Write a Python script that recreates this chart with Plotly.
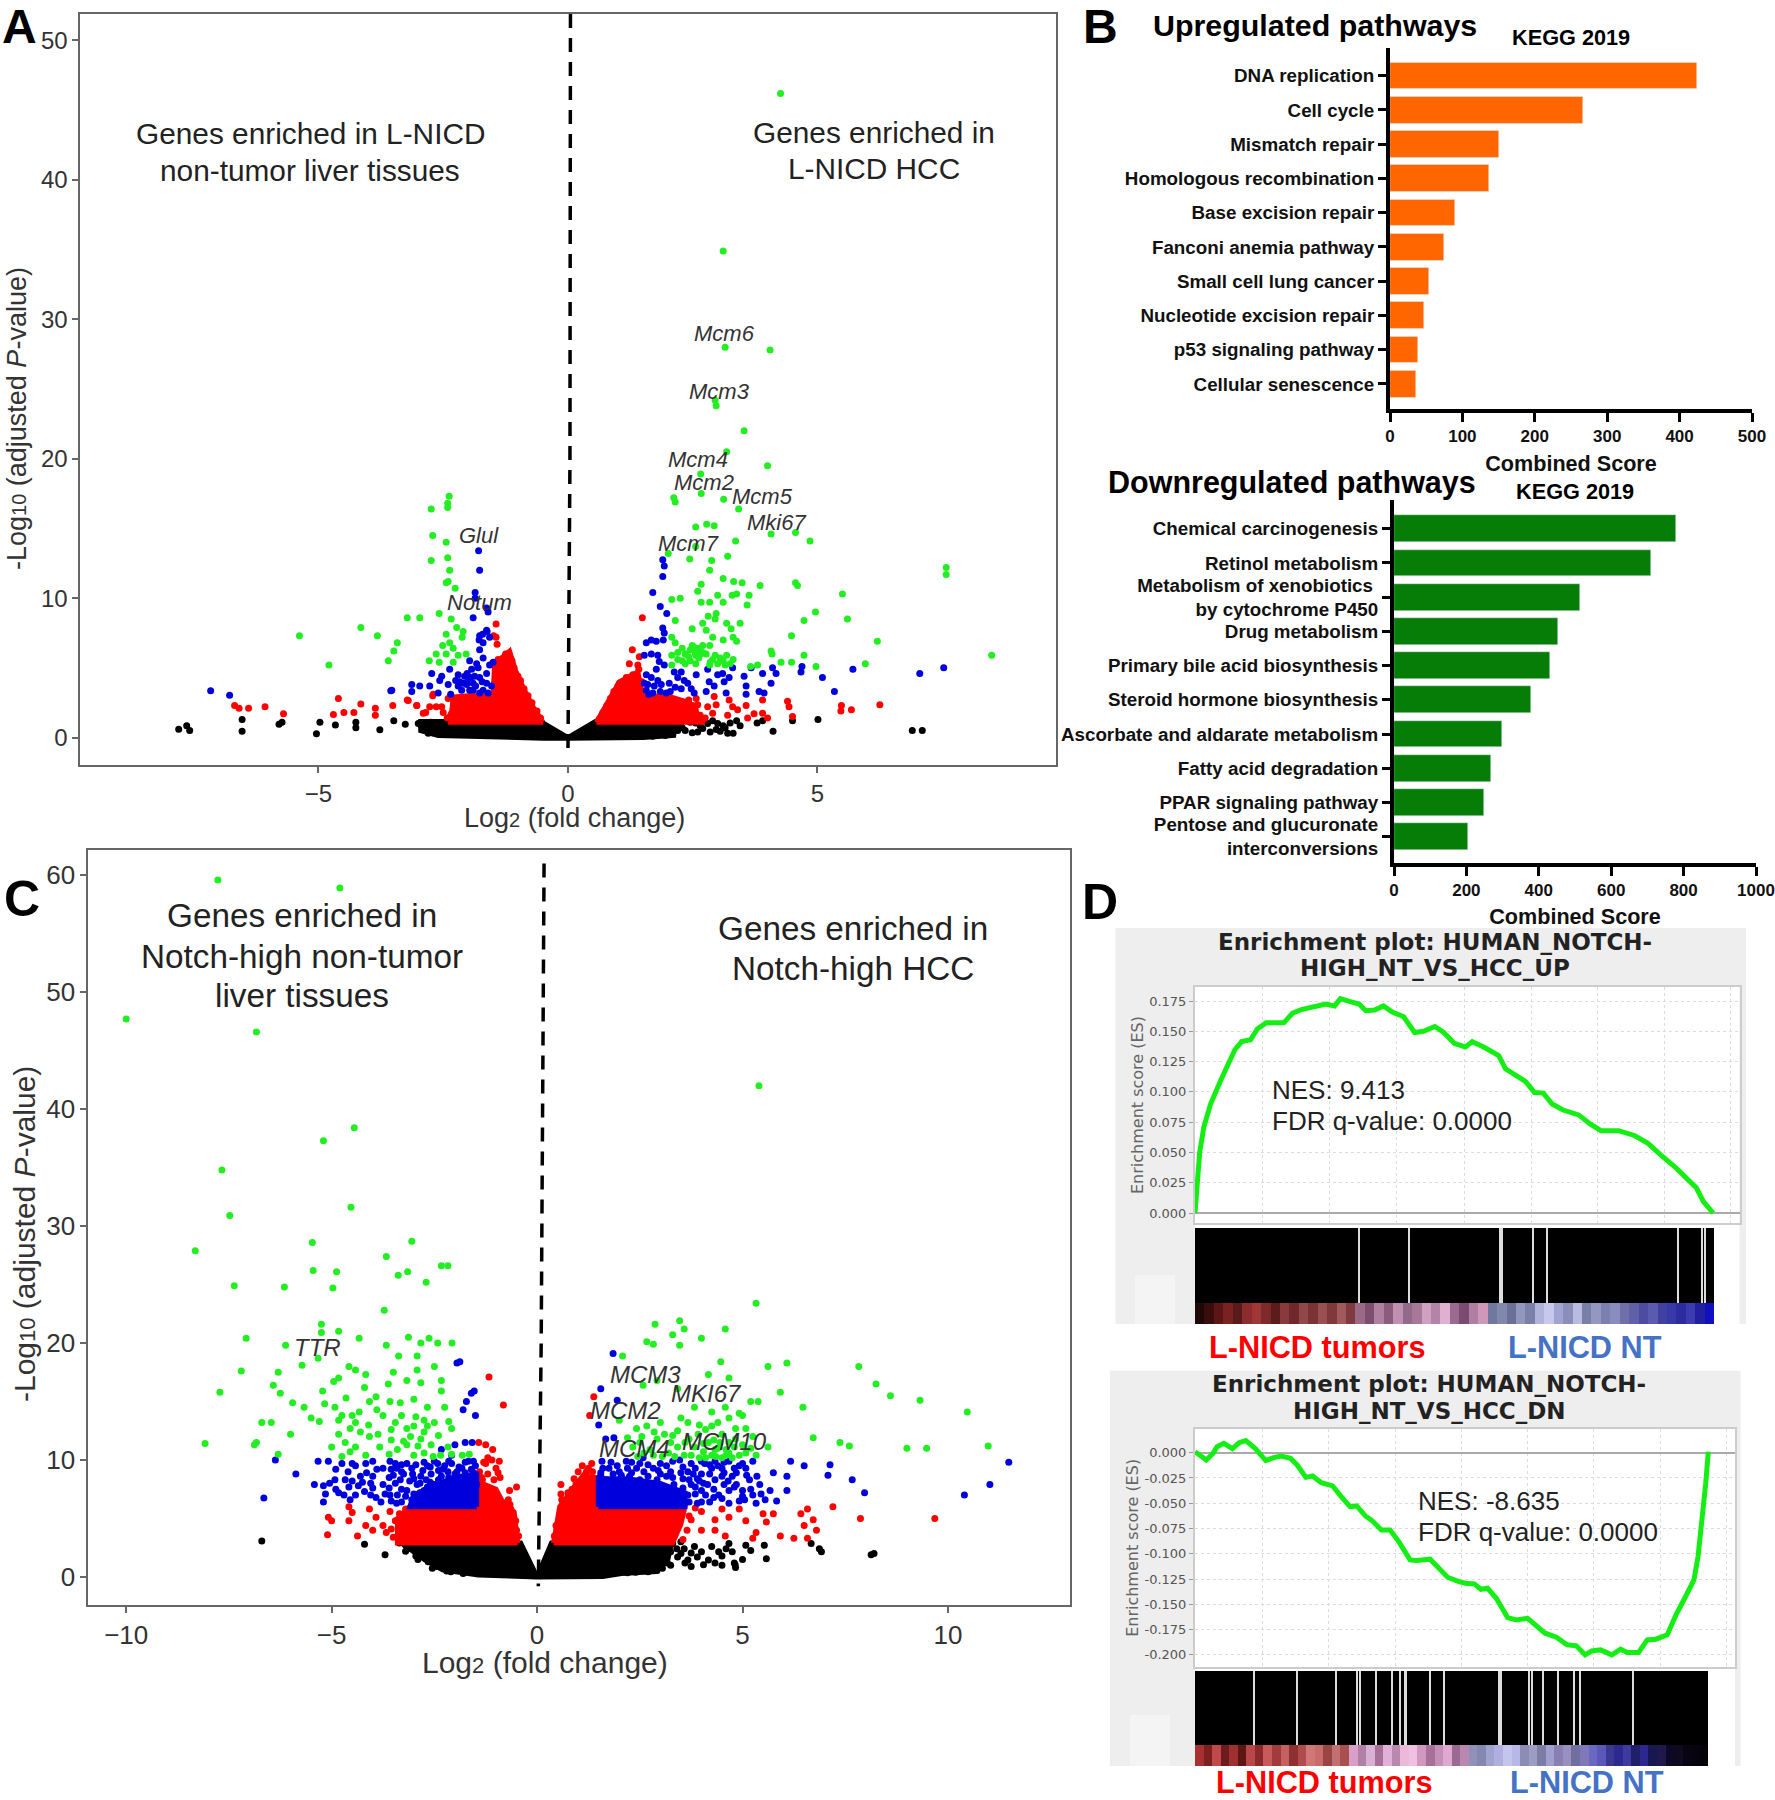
#!/usr/bin/env python3
"""Four panel figure: two volcano plots, KEGG bar charts, GSEA enrichment plots."""
import plotly.graph_objects as go

W, H = 1775, 1800
FONT = "Liberation Sans"
DIALOG = "DejaVu Sans"

GREEN, BLUE, RED, BLACK = "#22ee22", "#0000dd", "#ff0000", "#000000"

# ----------------------------------------------------------------------------
# Panel A, values as (log2 fold change, -log10 p)
# ----------------------------------------------------------------------------
a_green = [
    (4.26, 46.2), (3.11, 34.9), (3.15, 28), (4.05, 27.8), (2.97, 23.8), (2.95, 24.2), (3.53, 22), (3.18, 20.5),
    (4.0, 19.5), (2.66, 18.9), (2.67, 17.5), (3.12, 17.1), (2.12, 17.2), (2.15, 16.9), (3.42, 16.4), (2.78, 15.3),
    (2.93, 15.2), (2.56, 15.1), (4.07, 14.6), (4.56, 14.7), (4.85, 14.1), (3.36, 14.1), (2.56, 13.7), (2.01, 13.2),
    (3.2, 13), (2.44, 12.8), (2.88, 12.7), (7.58, 12.2), (7.58, 11.7), (2.84, 12), (2.67, 11), (3.11, 11.4),
    (3.32, 11.2), (3.49, 11.1), (4.56, 11.1), (4.6, 10.9), (3.85, 10.9), (2.6, 10.5), (5.5, 10.3), (3.38, 10.3),
    (3, 10.2), (3.29, 10.2), (3.63, 10.2), (2.08, 9.9), (2.25, 10), (2.67, 9.7), (2.84, 9.7), (3.11, 9.7),
    (3.59, 9.5), (4.96, 9), (2.97, 8.9), (4.73, 8.4), (5.6, 8.5), (2.81, 8.7), (2.95, 8.5), (2.15, 8.4),
    (2.7, 8.2), (3.18, 8.2), (3.45, 8.2), (2.49, 7.8), (2.77, 7.7), (3.27, 7.8), (4.48, 7.3), (6.2, 6.9),
    (8.49, 5.9), (2.08, 7.2), (2.9, 7.2), (3.31, 7.2), (3.11, 7), (2.15, 6.8), (3.38, 6.9), (2.84, 6.6),
    (2.29, 6.4), (2.49, 6.6), (2.7, 6.6), (2.63, 6.2), (4.07, 6.2), (4.09, 6.0), (2.08, 5.9), (2.36, 6),
    (2.56, 5.9), (2.77, 6), (4.73, 5.9), (3.18, 5.9), (2.29, 5.5), (2.9, 5.6), (3.11, 5.5), (3.31, 5.6),
    (2.08, 5.2), (2.56, 5.3), (2.84, 5.2), (4.27, 5.4), (4.48, 5.4), (3.8, 5.2), (3.66, 5.1), (4.97, 5.1),
    (5.96, 5.3), (2.45, 6.3), (2.6, 6.4), (2.66, 6.0), (2.55, 6.1), (2.42, 5.8), (2.95, 5.9), (3.05, 5.7),
    (2.2, 6.1), (2.35, 5.3), (2.35, 6.0), (2.52, 6.5), (2.7, 6.1), (2.62, 5.7), (2.45, 5.5), (2.85, 5.4),
    (2.2, 5.6), (3.25, 5.3), (3.15, 5.2), (3.0, 5.3),
    (-2.38, 17.3), (-2.41, 16.8), (-2.74, 16.4), (-2.41, 16.5), (-2.71, 14.5), (-2.44, 14), (-2.74, 12.7),
    (-2.41, 12.9), (-2.37, 12), (-2.4, 11.2), (-2.44, 11.1), (-2.26, 10.7), (-4.15, 7.9), (-5.38, 7.3),
    (-3.82, 7.3), (-4.79, 5.2), (-3.22, 8.6), (-2.97, 8.6), (-3.42, 6.8), (-3.49, 6.2), (-3.6, 5.5),
    (-2.58, 8.9), (-2.34, 8.5), (-2.23, 7.9), (-2.1, 7.6), (-2.12, 7.2), (-2.44, 7.4), (-2.37, 6.8),
    (-2.51, 6.6), (-2.3, 6.4), (-2.64, 6), (-2.44, 6), (-2.2, 5.9), (-2.78, 5.5), (-2.58, 5.4), (-2.3, 5.4),
    (-2.04, 6),
]
a_blue = [
    (-1.79, 13.4), (-1.77, 12), (-1.86, 10.4), (-1.86, 10), (-1.63, 9.3), (-1.6, 9), (-1.9, 8.6), (-1.71, 7.4),
    (-1.62, 7.6), (-1.78, 7), (-7.16, 3.35), (-6.78, 3.04), (-3.55, 3.35), (-3.53, 3.4), (-3.13, 3.8), (-3.13, 3.3),
    (-2.97, 3.7), (-2.77, 3.7), (-2.73, 4.6), (-2.57, 4.1), (-2.53, 4.4), (-2.6, 3.2), (-2.37, 4.9), (-2.4, 3.8),
    (-2.35, 3.1), (-2.2, 4.5), (-2.17, 4), (-2.2, 3.7), (-2.13, 3.4), (-2.02, 4.6), (-2, 4.1), (-1.97, 5.5),
    (-2.03, 3.8), (-1.87, 4.4), (-1.83, 5.3), (-1.8, 5), (-1.77, 6.3), (-1.77, 7.3), (-1.7, 5.7), (-1.77, 4.3),
    (-1.9, 3.4), (-1.77, 3.2), (-1.63, 4.6), (-1.63, 7.7), (-1.57, 7.2), (-1.57, 5.2), (-1.63, 3.9), (-1.6, 3.2),
    (-1.53, 3.7), (-1.5, 5.4), (-1.93, 4.9), (-1.7, 6.8), (-2.07, 4.4), (-1.97, 3.4), (-1.7, 3.4), (-2.1, 3.9),
    (-1.9, 3.9), (-1.85, 3.7), (-2.25, 4.1), (-1.95, 4.3), (-1.72, 4.0),
    (1.9, 12.75), (1.93, 12.3), (1.9, 11.55), (1.7, 10.4), (1.85, 9.4), (1.98, 8.9), (1.9, 7.85), (1.93, 7.5),
    (1.91, 7), (1.67, 7), (1.57, 6.8), (1.77, 6.9), (1.53, 5.9), (1.67, 6), (1.8, 5.9), (1.83, 5.45), (1.93, 5.2),
    (1.77, 4.9), (1.57, 4.5), (1.67, 4.3), (1.8, 4.1), (1.53, 3.9), (1.57, 3.4), (1.73, 3.7), (1.87, 3.8),
    (1.97, 3.2), (1.7, 3.2), (2.03, 3.9), (2.13, 4.7), (2.2, 4.3), (2.27, 4.7), (2.33, 4.1), (2.27, 3.5),
    (2.47, 3.5), (2.53, 3.2), (2.57, 4.5), (2.8, 4.9), (2.83, 4), (2.77, 3.3), (3, 4.5), (3.1, 4.6), (2.93, 3.7),
    (3.13, 4), (3.23, 4.3), (3.3, 5), (3.17, 3.2), (3.53, 4.4), (3.57, 3.7), (3.57, 3.1), (3.67, 5), (3.9, 4.6),
    (3.83, 3.3), (4.07, 3.9), (3.93, 3.2), (4.1, 5), (4.17, 4.6), (4.67, 4.7), (4.69, 5.1), (5.1, 4.3), (5.71, 4.9),
    (5.34, 3.3), (7.05, 4.6), (7.53, 5), (1.62, 3.1), (1.85, 3.3), (2.05, 3.3), (2.15, 3.6), (2.4, 3.9), (1.6, 3.8),
]
a_red = [
    (-6.68, 2.3), (-6.59, 2.1), (-6.4, 2.1), (-6.07, 2.2), (-5.7, 1.7), (-4.6, 2.8), (-4.7, 1.65), (-4.49, 1.8),
    (-4.29, 1.8), (-4.15, 2.4), (-3.86, 2.1), (-3.86, 1.6), (-3.22, 2.7), (-3.03, 2.3), (-2.85, 1.8), (-2.71, 3),
    (-2.64, 2.2), (-2.5, 1.8), (-2.3, 2.8), (-2.1, 1.8), (-1.44, 8.15), (-1.44, 7.2), (-1.49, 7.3), (-1.42, 6.7),
    (-3.2, 2.65), (-3.51, 2.3), (-3.03, 2.3), (-2.7, 3.1), (-2.77, 2.2), (-2.9, 1.75), (-2.53, 2.2), (-2.4, 2.8),
    (-2.33, 1.75), (-2.17, 2.45), (-2.27, 2.8),
    (1.49, 8.6), (1.29, 6.3), (1.43, 5.8), (1.23, 5.3), (1.4, 5.2), (1.17, 4.3), (1.03, 3.9), (2.57, 2.8),
    (2.23, 2.6), (2.37, 2), (2.6, 2.35), (2.8, 2.2), (2.93, 2.95), (2.9, 1.75), (3.23, 2.7), (3.3, 2.2), (3.2, 1.6),
    (3.4, 2), (3.57, 2.3), (3.6, 1.4), (3.73, 1.7), (3.9, 1.75), (4, 1.4), (3.9, 2.7), (4.4, 2.6), (4.43, 2.2),
    (4.5, 1.5), (2.97, 2.35), (5.48, 2.3), (5.47, 1.9), (5.68, 2), (6.25, 2.35),
    # ragged edge of the solid part
    (-0.55, 1.4), (-0.62, 1.9), (-0.72, 2.5), (-0.8, 3), (-0.88, 3.5), (-0.95, 4.1), (-1, 4.4), (-1.08, 5),
    (-1.12, 5.5), (-1.2, 6), (-1.25, 6), (-1.3, 5.5), (-1.38, 5), (-1.4, 5.6), (-1.45, 4.6), (-1.47, 3.9),
    (-1.55, 3), (-1.75, 2.9), (-1.95, 2.9), (-2.2, 2.6), (-2.28, 2.2), (-2.35, 1.6), (-2.42, 1.4),
    (0.62, 1.3), (0.7, 1.8), (0.78, 2.3), (0.85, 2.8), (0.92, 3.3), (1, 3.7), (1.1, 4), (1.2, 4.2), (1.3, 4.5),
    (1.42, 4.9), (1.48, 4), (2.15, 2.7), (2.3, 2.4), (2.42, 2.7), (2.55, 2), (2.65, 1.6), (2.75, 1.4), (2.5, 2.3),
]
a_black = [
    (-7.8, 0.6), (-7.64, 0.85), (-7.58, 0.5), (-6.53, 1.3), (-6.53, 0.45), (-5.79, 0.95), (-5.73, 1.1), (-4.97, 1.1),
    (-5.04, 0.27), (-4.66, 0.9), (-4.25, 1.1), (-4.25, 0.7), (-3.77, 0.55), (-3.49, 1.2), (-3.26, 0.95), (5.01, 1.3),
    (6.9, 0.5), (7.1, 0.5), (4.11, 0.45), (4.5, 1.2), (3.79, 1.05), (3.9, 1.2), (3.31, 0.3), (3.25, 1.05),
    (3.11, 0.85), (2.9, 1.2), (2.7, 0.65), (2.56, 1.05), (2.29, 0.7), (2.15, 1.1), (2.49, 0.35), (2.97, 0.58),
    (3.38, 1.2), (3.45, 0.85), (-2.92, 0.58), (-2.71, 0.35), (-2.37, 0.35), (-2.92, 1.05), (-2.5, 0.7),
    (-2.95, 0.9), (-2.85, 0.6), (-2.8, 0.3), (-2.6, 0.25), (-2.65, 0.8), (-3.0, 1.0), (-2.75, 1.1), (2.2, 0.5),
    (2.25, 0.9), (2.35, 0.5), (2.45, 1.1), (2.6, 0.4), (2.65, 0.85), (2.8, 1), (2.85, 0.4), (3, 1), (3.05, 0.45),
    (3.15, 0.7), (3.2, 0.3), (1.95, 0.15), (1.7, 0.1),
]
# outlines of the regions where the dots merge into solid colour
a_black_mass = [
    (0, 0), (-0.55, 1.15), (-2.95, 1.15), (-2.95, 0.5), (-2.6, 0.15), (-1.5, 0.0), (-0.5, -0.05), (0, -0.05),
    (0.5, -0.05), (1.5, 0.0), (2.12, 0.15), (2.15, 1.15), (0.55, 1.15), (0, 0),
]
a_red_left = [
    (-0.5, 1.1), (-0.7, 2.2), (-0.9, 3.6), (-1.05, 4.8), (-1.17, 6.2), (-1.3, 5.8), (-1.47, 5.3), (-1.5, 3),
    (-2.0, 3), (-2.3, 2.9), (-2.35, 1.1), (-0.5, 1.1),
]
a_red_right = [
    (0.57, 1.1), (0.9, 3.2), (1.03, 4), (1.4, 4.7), (1.5, 3), (2.03, 2.95), (2.43, 2.5), (2.73, 1.1), (0.57, 1.1),
]
a_divider_x = [0.05, 0.04, 0.0]
a_divider_y = [51.9, 20, -1.2]

# ----------------------------------------------------------------------------
# Panel C
# ----------------------------------------------------------------------------
c_green = [
    (-7.77, 59.6), (-4.8, 58.9), (-10, 47.7), (-6.83, 46.6), (-4.45, 38.4), (-5.2, 37.3), (-7.67, 34.8), (-7.48, 30.9),
    (-4.53, 31.6), (-8.32, 27.9), (-5.47, 28.6), (-3.05, 28.7), (-3.67, 27.4), (-7.37, 24.9), (-6.15, 24.8),
    (-5.45, 26.2), (-4.88, 26.1), (-4.97, 24.7), (-3.15, 26.1), (-3.38, 25.8), (-2.7, 25.2), (-2.33, 26.6),
    (-2.17, 26.6), (-3.72, 22.8), (-7.08, 20.4), (-6.12, 19.8), (-5.25, 21.6), (-5.25, 20.9), (-4.83, 21),
    (-4.33, 20.4), (-7.2, 17.6), (-7.72, 15.8), (-8.08, 11.4), (-6.3, 17.5), (-6.42, 16.4), (-6.25, 15.7),
    (-5.72, 18.1), (-5.33, 18.7), (-4.58, 18), (-4.42, 17.7), (-4.17, 17.3), (-4.83, 17), (-4.95, 16.7),
    (-5.95, 14.9), (-5.22, 15.9), (-5.67, 14.5), (-5.17, 14.8), (-5.5, 13.6), (-4.92, 14.5), (-4.75, 13.8),
    (-4.5, 13.8), (-4.33, 14.1), (-4.08, 15), (-3.92, 15.4), (-3.67, 19.8), (-3.13, 20.5), (-2.63, 20.4),
    (-2.83, 20), (-2.42, 20), (-2.07, 20), (-3.37, 18.9), (-2.92, 18.9), (-3.5, 17.5), (-2.92, 17.7), (-2.5, 18),
    (-3.17, 16.8), (-2.83, 16.6), (-2.33, 16.8), (-2.33, 15.9), (-3.58, 15), (-3.33, 14.9), (-3, 15.2),
    (-2.67, 14.5), (-2.25, 14.5), (-3.75, 13.8), (-4.83, 13.4), (-4.42, 13.2), (-3.87, 12.2), (-3.17, 12.7),
    (-3, 12.9), (-2.67, 12.9), (-2.5, 13.2), (-2.08, 12.7), (-4.83, 12.2), (-4.67, 11.5), (-4.08, 12), (-3.08, 12),
    (-2.83, 11.8), (-5, 11.1), (-4.42, 11.1), (-3.83, 11.1), (-3.17, 11.3), (-2.58, 11.3), (-2.17, 11.1),
    (-4.17, 10.4), (-3, 10.4), (-2.08, 10.5), (-2.53, 10.3), (-6.83, 11.5), (-6.7, 13.2), (-6.47, 13.2), (-6, 12.2),
    (-6.3, 10.5), (-6.88, 11.3), (-3.45, 13.2), (-3.62, 16.5), (-4.2, 16.2), (-4.65, 15.3), (-3.25, 11.6),
    (-1.82, 10.4), (-1.65, 10.5), (-3.9, 14.3), (-2.95, 13.7), (-2.4, 12.1), (-5.3, 13.3), (-4.55, 12.7),
    (-4.75, 10.3), (-4.55, 10.7), (-3.6, 10.5), (-3.4, 10.9), (-2.75, 10.6), (-2.35, 10.4), (-3.55, 11.7),
    (-2.75, 12.4), (-3.3, 13.8), (-2.75, 13.4), (-2.15, 13.3), (-4.3, 12.4), (-4.1, 13), (-3.55, 12.6), (-2.9, 11.2),
    (5.4, 42), (5.33, 23.4), (2.87, 21.6), (3.47, 21.9), (3.58, 21.2), (4.58, 21.2), (3.3, 20.7), (2.67, 20.1),
    (2.83, 19.9), (3.47, 19.8), (4, 20.4), (2.08, 18.9), (4.47, 18.4), (6.08, 18.3), (5.62, 18), (7.83, 18),
    (8.25, 16.5), (4.17, 17.3), (4.67, 17), (5.92, 15.8), (8.6, 15.5), (9.32, 15.1), (5.2, 15), (5.38, 15),
    (6.47, 14.5), (10.47, 14.1), (2.58, 16.4), (2.92, 16.8), (3.42, 16.1), (3.83, 14.5), (4.25, 14.1), (4.58, 14.5),
    (4.92, 14), (4.67, 13.6), (5, 13.8), (3, 13.2), (3.5, 13.6), (3.67, 13.2), (4.25, 12.9), (4.83, 12.7),
    (5.08, 12.7), (2.42, 12.7), (2, 13.4), (2.67, 12.9), (3.42, 12.5), (3.92, 12.2), (4.5, 12.2), (5.25, 12),
    (2.92, 11.8), (3.25, 11.5), (4.17, 11.5), (4.67, 11.5), (4.83, 11.8), (6.72, 11.9), (7.37, 11.5), (7.6, 11.2),
    (9, 11), (9.48, 11), (10.98, 11.2), (5.62, 11.1), (2.33, 11.1), (2.75, 10.9), (3.42, 11.1), (3.83, 11.1),
    (4.33, 10.9), (4.67, 10.6), (5.08, 10.6), (4.25, 10.4), (4.5, 10.2), (4.92, 10.4), (2.83, 10.4), (3.58, 10.4),
    (5.33, 10.4), (2.2, 11.9), (2.55, 12.0), (3.1, 12.2), (4.05, 10.7), (4.4, 11.0), (3.7, 11.8),
    (2.45, 10.3), (2.6, 10.6), (3.05, 10.3), (3.2, 10.6), (3.35, 10.3), (3.75, 10.4), (3.95, 10.2), (4.1, 10.2),
    (4.35, 10.3), (4.6, 10.4), (4.75, 10.2), (4.05, 11.4), (4.3, 11.7), (4.45, 11.5), (4.6, 10.9), (4.8, 11.1),
    (5.0, 11.3), (3.6, 11.5), (3.3, 12.1), (2.85, 12.4), (2.5, 11.5), (3.95, 13), (4.4, 13.2), (4.1, 12.6), (5.2, 11),
]
c_blue = [
    (-6.37, 10), (-5.87, 8.8), (-6.65, 6.75), (-5.42, 7.9), (-5.33, 9.9), (-5.08, 9.9), (-5.2, 6.4), (-4.92, 8.3),
    (-4.83, 7.2), (-4.58, 7.7), (-4.42, 9.5), (-4.17, 9.7), (-4.25, 8.1), (-4, 8.6), (-3.75, 7.9), (-3.92, 6.8),
    (-3.58, 9.9), (-3.42, 9.3), (-3.33, 8.3), (-3.58, 7), (-3.17, 9.7), (-3.03, 8.8), (-2.92, 7.9), (-3.17, 7.4),
    (-2.67, 9.5), (-2.58, 8.8), (-2.42, 9.7), (-2.33, 8.6), (-2.08, 9.7), (-2, 8.8), (-1.83, 9.3), (-1.92, 7.9),
    (-1.67, 8.6), (-1.5, 9.5), (-1.47, 7.9), (-2.33, 7.4), (-2.5, 7), (-2.83, 6.5), (-3.42, 6.3), (-1.95, 18.3),
    (-1.88, 18.4), (-1.53, 15.9), (-1.6, 15.7), (-1.72, 15), (-1.8, 14.3), (-1.5, 13.8), (-1.58, 11.5), (-1.75, 11.5),
    (-2, 11.3), (-2.33, 10.9), (-2.08, 10.4), (-2.5, 9.9), (-2.83, 8.6), (-2.17, 9), (-1.67, 9.9), (-1.75, 7.2),
    (-2.08, 7), (-2.5, 7.9), (-2.67, 7.7), (-3.25, 8.8), (-3.75, 9.3), (-4.5, 9.7), (-4.75, 9.7), (-4.67, 8.3),
    (-4.42, 7), (-4, 7.6), (-3.05, 9.3), (-2.78, 9.1), (-2.2, 8.1), (-1.6, 7.6), (-3.5, 8.7), (-3.1, 8.2),
    (-2.3, 9.2), (-1.9, 8.5), (-1.55, 8.9), (-2.7, 8.3),
    (-1.55, 9.9), (-1.6, 9.2), (-1.75, 9.8), (-1.9, 9.4), (-2.15, 9.9), (-2.25, 9.5), (-2.4, 9.1), (-2.6, 9.4),
    (-2.75, 9.8), (-2.95, 9.6), (-3.3, 9.6), (-3.45, 9.7), (-3.55, 9.2), (-3.3, 9), (-3.0, 8.4), (-2.85, 8.0),
    (-2.6, 8.1), (-2.4, 8.3), (-2.15, 8.5), (-1.95, 9.0), (-1.75, 8.9), (-1.6, 8.3), (-1.5, 8.5), (-3.6, 8.5),
    (-3.45, 8.0), (-3.6, 7.6), (-3.3, 7.5), (-3.4, 7.0), (-3.2, 6.9), (-3.0, 7.1), (-3.05, 6.6), (-3.3, 6.4),
    (-3.55, 6.5), (-3.8, 6.4), (-4.05, 7.0), (-4.2, 7.3), (-4.35, 7.8), (-4.5, 8.2), (-4.05, 8.0), (-4.15, 8.9),
    (-3.9, 9.2), (-4.0, 9.9), (-4.3, 8.6), (-4.6, 9.0), (-4.9, 9.2), (-5.05, 8.0), (-5.2, 7.8), (-5.15, 7.1),
    (-4.9, 7.5), (-4.7, 7.0), (-4.55, 6.6), (-3.7, 7.1), (-2.75, 7.4), (-2.85, 7.2), (-2.05, 8.1), (-1.85, 7.6),
    (1.85, 19.1), (1.55, 16.1), (1.95, 15.1), (1.5, 13), (1.67, 11.8), (1.87, 11.9), (1.58, 9.9), (2.17, 9.9),
    (2.58, 10.2), (3, 9.7), (3.47, 10), (3.75, 9.7), (4.08, 9.7), (4.33, 9.9), (4.67, 9.9), (4.92, 9.5), (5.25, 9.9),
    (6.17, 9.9), (6.5, 9.5), (7.13, 9.6), (7.08, 8.7), (7.67, 8.3), (7.97, 7.2), (11.02, 7.9), (10.4, 7), (11.48, 9.8),
    (5.75, 8.9), (6.08, 8.6), (6.08, 7.4), (5.67, 7.4), (5.83, 6.5), (5.42, 7.9), (5.17, 8.3), (5, 7.4), (4.75, 8.6),
    (4.67, 7.4), (4.33, 8.3), (4.42, 7), (4, 8.8), (4, 7.4), (3.67, 9), (3.75, 7.9), (3.67, 7), (3.25, 9),
    (3.33, 7.9), (3.42, 6.7), (2.83, 9.3), (2.92, 8.3), (3.08, 7.2), (2.42, 9.3), (2.5, 8.3), (2.67, 7), (2, 9),
    (2.08, 8.3), (1.75, 9.3), (1.67, 8.3), (5.25, 7), (4.92, 6.5), (4.67, 6.3), (5.33, 6.3), (4, 6.4), (4.5, 9.3),
    (4.25, 9.3), (5.08, 9.3), (3.8, 8.8), (4.5, 8.6), (4.15, 7.9), (3.55, 8.4), (3.15, 8.6), (2.7, 8.6), (2.25, 8.6),
    (1.85, 8.8), (1.55, 8.7), (4.85, 7.9), (3.95, 8.2), (4.3, 6.8),
    (1.6, 9.3), (1.55, 8.9), (1.8, 9.8), (1.95, 9.5), (2.2, 9.3), (2.3, 9.8), (2.5, 9.7), (2.7, 9.6), (2.95, 9.1),
    (3.15, 9.5), (3.3, 9.9), (3.55, 9.4), (3.85, 9.3), (4.0, 9.9), (4.2, 9.6), (4.4, 9.5), (4.55, 9.8), (4.8, 9.3),
    (5.0, 9.7), (4.85, 8.9), (5.1, 8.7), (4.55, 8.9), (4.2, 8.8), (3.9, 8.4), (3.5, 8.9), (3.3, 8.5), (3.0, 8.8),
    (2.6, 9.0), (2.3, 8.9), (2.05, 8.7), (3.7, 8.3), (4.05, 8.0), (3.85, 7.7), (3.55, 7.6), (3.85, 7.1), (4.1, 7.0),
    (4.3, 7.5), (4.55, 7.9), (4.8, 7.7), (4.5, 6.7), (4.2, 6.4), (3.9, 6.3), (3.7, 6.4), (3.5, 6.5), (5.0, 6.9),
    (5.2, 7.5), (5.05, 6.6), (5.45, 7.1), (5.55, 6.6), (5.35, 8.6), (4.65, 8.2), (3.4, 7.3),
]
c_red = [
    (-1.17, 17.1), (-0.82, 14.7), (-1.42, 11.5), (-1.25, 11.3), (-1.08, 10.9), (-0.92, 9.9), (-1.25, 9.7), (-1, 9.3),
    (-1.33, 8.3), (-0.5, 7.7), (-0.67, 7.4), (-5.08, 5.1), (-5, 4.8), (-5.1, 3.6), (-4.58, 6), (-4.5, 5.5),
    (-4.58, 4.8), (-4.37, 3.5), (-4.08, 5.8), (-4.17, 4.4), (-3.92, 5.1), (-3.75, 4.4), (-3.67, 3.8), (-3.58, 5.6),
    (-4, 4),
    (1.38, 15.4), (1.28, 13.8), (1.33, 9.7), (1.25, 9.3), (1.17, 8.3), (0.58, 7.9), (0.58, 7.1), (1, 7.7), (4.5, 5.8),
    (4.92, 5.8), (4.67, 5.1), (5.08, 4.8), (5.33, 3.8), (5.25, 3.3), (5.5, 5.4), (5.75, 5.4), (5.58, 4.7), (5.92, 3.5),
    (6.25, 3.3), (6.58, 3.3), (6.42, 5.4), (6.58, 5.8), (6.72, 4.9), (6.8, 4), (6.5, 4.4), (7.2, 6), (7.87, 5),
    (9.68, 5), (4.33, 4.9), (4.33, 4), (4.58, 3.5), (4, 5.6), (4, 4), (3.75, 4.9),
    # ragged edge of the solid part
    (-1.4, 9), (-1.3, 9.8), (-1.2, 10.2), (-1.1, 10), (-0.95, 8.9), (-0.9, 8.5), (-1.05, 8.3), (-1.2, 8.8),
    (-1.35, 8.5), (-0.5, 4), (-0.45, 3.5), (-0.52, 4.8), (-0.58, 5.5), (-0.66, 6.2), (-0.7, 6.6), (-3.5, 3.4),
    (-3.55, 4.1), (-3.45, 4.8), (-3.35, 5.4), (-3.2, 5.8),
    (0.6, 6.6), (0.75, 7.2), (0.9, 8.4), (1, 9), (1.1, 9.5), (1.2, 9), (0.85, 7.5), (0.95, 8), (1.35, 9), (0.42, 3.5),
    (0.46, 4.4), (3.55, 3.2), (3.65, 4), (3.7, 5.2), (3.85, 5.9),
]
c_black = [
    (-6.7, 3.07), (-3.7, 1.9), (-4.2, 2.8), (-3.17, 2.6), (6.92, 2.15), (6.87, 2.4), (8.2, 2), (8.13, 1.9), (5.58, 1.55),
    (5.53, 2.7), (5.2, 2.25), (4.83, 0.8), (4.8, 1.2), (4.75, 2.15), (4.67, 2.85), (4.33, 1.2), (4.42, 2.15), (4, 2.15),
    (4.17, 1.45), (3.83, 2.6), (3.58, 2.4), (3.42, 1.7), (3.67, 1.45), (3.5, 3), (2.92, 0.55), (2.75, 0.8), (2.5, 0.55),
    (3.17, 1.2), (3.25, 2.15), (5.08, 2.7), (4.5, 1), (6.67, 2.85), (-3.0, 2.3), (-2.9, 1.5), (-2.55, 0.75),
    (-3.35, 2.9), (-2.2, 0.5),
    (3.1, 2.5), (3.3, 2.85), (3.4, 2.4), (3.5, 2), (3.25, 1), (3.05, 0.75), (2.85, 1.1), (2.7, 0.45), (2.4, 0.4),
    (2.2, 0.35), (2.6, 0.9), (3.0, 1.6), (3.6, 1.2), (3.75, 2.05), (3.9, 1.7), (4.05, 1.05), (4.25, 2.6), (4.5, 1.8),
    (4.6, 2.4), (4.82, 1.05), (5, 1.5), (3.75, 0.9), (-3.2, 2.7), (-3.05, 2.45), (-2.85, 2.0), (-2.65, 1.3),
    (-2.45, 0.9), (-2.1, 0.45), (-1.8, 0.3), (-2.95, 1.8), (-3.2, 2.2),
]
c_blue_left = [(-1.47, 6), (-3.1, 6), (-3.0, 7), (-2.4, 8.0), (-1.9, 8.6), (-1.47, 8.8), (-1.47, 6)]
c_blue_right = [(1.49, 6), (3.6, 6), (3.6, 7.2), (3.0, 8.0), (2.2, 8.4), (1.49, 8.4), (1.49, 6)]
c_red_left = [
    (-0.47, 2.9), (-0.55, 5.3), (-0.64, 6), (-0.85, 6.5), (-1.0, 7.5), (-1.35, 8.0), (-1.47, 8), (-1.47, 6),
    (-3.1, 6), (-3.4, 5), (-3.4, 2.9), (-0.47, 2.9),
]
c_red_right = [
    (0.4, 2.9), (0.5, 5), (0.55, 6), (0.9, 7.7), (1.15, 8.8), (1.3, 8.5), (1.49, 8.5), (1.49, 6), (3.6, 6),
    (3.5, 4.5), (3.3, 2.9), (0.4, 2.9),
]
c_black_mass = [
    (0, 0), (-0.4, 2.9), (-3.3, 2.9), (-2.73, 1.45), (-2.3, 0.6), (-1.43, 0.17), (0, 0), (1.6, 0.03), (2.05, 0.3),
    (2.9, 0.45), (3.18, 1.45), (3.27, 2.9), (0.35, 2.9), (0, 0),
]
c_divider_x = [0.17, 0.1, 0.03]
c_divider_y = [61, 20, -0.8]

# ----------------------------------------------------------------------------
# Panel B
# ----------------------------------------------------------------------------
up_names = ["DNA replication", "Cell cycle", "Mismatch repair", "Homologous recombination", "Base excision repair",
            "Fanconi anemia pathway", "Small cell lung cancer", "Nucleotide excision repair", "p53 signaling pathway",
            "Cellular senescence"]
up_scores = [424, 267, 150.5, 137, 89.5, 75, 54, 46.6, 39, 36]
down_names = ["Chemical carcinogenesis", "Retinol metabolism", "Metabolism of xenobiotics&nbsp;<br>by cytochrome P450",
              "Drug metabolism", "Primary bile acid biosynthesis", "Steroid hormone biosynthesis",
              "Ascorbate and aldarate metabolism", "Fatty acid degradation", "PPAR signaling pathway",
              "Pentose and glucuronate<br>interconversions"]
down_scores = [778, 711, 515, 452, 432, 379, 298, 267, 249, 205]

# ----------------------------------------------------------------------------
# Panel D, running enrichment scores against position in the ranked list (%)
# ----------------------------------------------------------------------------
es_up_rank = [0, 0.4, 0.9, 1.7, 3.0, 5, 6, 7.7, 9, 10.7, 12, 13.7, 17.1, 18.8, 20.5, 23.1, 25.2, 26.9, 28, 29.9, 31.6,
              32.9, 34.6, 36.3, 38, 40.2, 42.3, 44, 46.2, 47.9, 50, 52.1, 53.4, 55.6, 58.5, 59.8, 62, 63.7, 65.4, 67.1,
              68.8, 70.9, 73.9, 76.1, 78.2, 81.6, 84.6, 87.2, 89.7, 92.7, 96.6, 97.9, 99.8]
es_up = [0, 0.03, 0.05, 0.071, 0.09, 0.11, 0.12, 0.135, 0.1415, 0.143, 0.152, 0.157, 0.157, 0.165, 0.168, 0.17, 0.1725,
         0.171, 0.177, 0.1745, 0.1725, 0.167, 0.1676, 0.171, 0.166, 0.162, 0.149, 0.15, 0.154, 0.149, 0.14, 0.137,
         0.1415, 0.137, 0.13, 0.119, 0.1126, 0.1085, 0.0995, 0.099, 0.09, 0.085, 0.081, 0.0736, 0.068, 0.068, 0.064,
         0.0577, 0.048, 0.037, 0.0206, 0.0096, 0]
hits_up = [31.6, 41.2, 59, 65.2, 67.8, 93, 97.6, 98.3]
hits_up_w = [0.25, 0.3, 0.7, 0.2, 0.25, 0.2, 0.2, 0.2]
strip_up = ["#1f0808", "#3a0c0c", "#5c1616", "#7a2222", "#5a1a1a", "#8c2c2c", "#a03636", "#7c2a2a", "#5c1c1c", "#8a3a3a",
            "#70282a", "#924848", "#7a3434", "#9a5050", "#80383c", "#a05a5a", "#7e3a40",
            "#9c6a86", "#7e4e70", "#b080a0", "#8c5c7c", "#c090b0", "#926a8c", "#a87898", "#d0a0c0", "#b484a8", "#e0b0d0",
            "#9a6a90", "#7a4a70", "#b07ea0", "#d098b8",
            "#7078a0", "#8088ac", "#6a7098", "#9098bc", "#7a80a8", "#b0b4dc", "#c8c8ec", "#a0a4d0", "#8a8eb8", "#b8bce0",
            "#7880a8", "#9498c0", "#7c80b0", "#8a8cc0", "#7070a8", "#6060a8", "#4c4ca0", "#5a5ab0", "#4040a0", "#3838a8",
            "#2c2ca0", "#3c3cb0", "#2020a0", "#1010c0"]

es_dn_rank = [0, 0.9, 2.2, 3.5, 4.3, 5.6, 7.3, 8.6, 9.9, 11.7, 13.8, 15.5, 16.8, 18.6, 19.9, 21.6, 22.9, 24.6, 26.8, 28.5,
              30.2, 31.5, 33.2, 34.5, 36.3, 38, 39.7, 41.9, 43.2, 45.8, 47.5, 49.2, 51.4, 52.7, 54.4, 55.7, 57, 58.7,
              60.9, 62.6, 64.8, 66.5, 68.2, 70.4, 72.5, 74.3, 76, 77.3, 79, 81.2, 82.9, 84.2, 86.4, 88.1, 89.8, 92,
              93.7, 95.4, 97.2, 98, 98.9, 99.5, 100]
es_dn = [0.001, -0.0023, -0.0072, -0.0007, 0.0059, 0.0092, 0.004, 0.0099, 0.0119, 0.0043, -0.0079, -0.0046, -0.0033,
         -0.0056, -0.0122, -0.0244, -0.0231, -0.0297, -0.0329, -0.0435, -0.0534, -0.0527, -0.0626, -0.0672, -0.0764,
         -0.0764, -0.088, -0.1061, -0.1067, -0.1054, -0.1143, -0.1232, -0.1275, -0.1292, -0.1298, -0.1351, -0.1341,
         -0.144, -0.1631, -0.1654, -0.1638, -0.172, -0.1786, -0.1825, -0.1901, -0.1911, -0.2, -0.196, -0.1951, -0.2,
         -0.1944, -0.1977, -0.1977, -0.1852, -0.1845, -0.1802, -0.1605, -0.144, -0.1259, -0.1028, -0.0633, -0.0303, 0.001]
hits_dn = [11.5, 19.9, 27.5, 31.5, 32.1, 35.2, 38.3, 39.9, 41, 45.8, 48.5, 59.4, 65, 65.6, 67.8, 70.8, 73.8, 75.1, 85.3]
hits_dn_w = [0.2, 0.4, 0.25, 0.2, 0.2, 0.25, 0.2, 0.2, 0.7, 0.2, 0.2, 0.8, 0.2, 0.2, 0.2, 0.2, 0.2, 0.25, 0.2]
strip_dn = ["#a83030", "#7c2020", "#c04a4a", "#6c1c1c", "#a03030", "#5c1616", "#b84848", "#8a2a2a", "#c85a5a", "#a03c3c",
            "#c46060", "#8c3030", "#b04c4c", "#d07878", "#c86c6c", "#9a4444", "#c07070", "#a85050",
            "#d8a0c8", "#b080a8", "#d8b0d4", "#a87098", "#e0b0d8", "#b888b0", "#ecbad8", "#f0c0e0", "#d098c0", "#a87098",
            "#c490b8", "#e0a8d0", "#9a6a90", "#b888b0",
            "#9090b8", "#8488b0", "#a0a4cc", "#b0b0e0", "#c4c4ec", "#b8b8e8", "#8c8cb4", "#9c9cc4", "#7c7ca4", "#a0a0d0",
            "#8880b0", "#9a90c0", "#7070a0", "#8078b8", "#6a68c0", "#5a58b8", "#3a3890", "#2c2a90", "#3e3aa0", "#20206a",
            "#2c2890", "#181850", "#20184c", "#0c0828", "#100a20", "#080414", "#060410", "#050308"]


# ----------------------------------------------------------------------------
# Helpers
# ----------------------------------------------------------------------------
def dom_x(left, right):
    return [left / W, right / W]


def dom_y(top, bottom):
    return [1 - bottom / H, 1 - top / H]


def dots(fig, pairs, color, axes):
    xs, ys = zip(*pairs)
    fig.add_trace(go.Scatter(x=xs, y=ys, mode="markers", marker=dict(size=7, color=color),
                             xaxis=axes[0], yaxis=axes[1], hoverinfo="skip"))


def mass(fig, outline, color, axes):
    xs, ys = zip(*outline)
    fig.add_trace(go.Scatter(x=xs, y=ys, mode="lines", fill="toself", fillcolor=color,
                             line=dict(color=color, width=5), xaxis=axes[0], yaxis=axes[1], hoverinfo="skip"))


def divider(fig, xs, ys, axes):
    fig.add_trace(go.Scatter(x=xs, y=ys, mode="lines", line=dict(color="black", width=3.5, dash="14px,10px"),
                             xaxis=axes[0], yaxis=axes[1], hoverinfo="skip"))


def label(text, x, y, size, color="#222", bold=False, italic=False, anchor="center", family=FONT, angle=0):
    if bold:
        text = f"<b>{text}</b>"
    if italic:
        text = f"<i>{text}</i>"
    return dict(text=text, x=x / W, y=1 - y / H, xref="paper", yref="paper", showarrow=False, xanchor=anchor,
                yanchor="middle", textangle=angle, font=dict(family=family, size=size, color=color))


def rect(left, top, right, bottom, color):
    return dict(type="rect", xref="paper", yref="paper", x0=left / W, x1=right / W, y0=1 - bottom / H, y1=1 - top / H,
                fillcolor=color, line=dict(width=0), layer="below")


def volcano_axes(domain_x, domain_y, x_range, y_range, x_ticks, y_ticks, tick_size):
    common = dict(showgrid=False, zeroline=False, showline=True, mirror=True, linecolor="#666", linewidth=2,
                  ticks="outside", ticklen=6, tickcolor="#666", tickwidth=2,
                  tickfont=dict(family=FONT, size=tick_size, color="#333"))
    xa = dict(common, domain=domain_x, range=x_range, tickvals=x_ticks)
    ya = dict(common, domain=domain_y, range=y_range, tickvals=y_ticks)
    return xa, ya


def bar_axes(domain_x, domain_y, x_max, x_step, y_range, names):
    xa = dict(domain=domain_x, range=[0, x_max], dtick=x_step, showgrid=False, zeroline=False, showline=True,
              linecolor="black", linewidth=4, ticks="outside", ticklen=9, tickwidth=3, tickcolor="black",
              tickfont=dict(family=FONT, size=17, color="#111", weight="bold"),
              title=dict(text="<b>Combined Score</b>", font=dict(family=FONT, size=21.6, color="#111"), standoff=11))
    ya = dict(domain=domain_y, range=y_range, tickvals=list(range(len(names))), ticktext=names, showgrid=False,
              zeroline=False, showline=True, linecolor="black", linewidth=4, ticks="outside", ticklen=8, tickwidth=3,
              tickcolor="black", tickfont=dict(family=FONT, size=18.8, color="#111", weight="bold"))
    return xa, ya


def es_axes(domain_x, domain_y, x_max, y_range, y_ticks, y_text, grid):
    xa = dict(domain=domain_x, range=[0, x_max], tickvals=grid, showticklabels=False, ticks="", showgrid=True,
              gridcolor="#dddddd", griddash="dot", zeroline=False, showline=True, mirror=True, linecolor="#cccccc",
              linewidth=2)
    ya = dict(domain=domain_y, range=y_range, tickvals=y_ticks, ticktext=y_text, showgrid=True, gridcolor="#dddddd",
              griddash="dot", zeroline=True, zerolinecolor="#aaaaaa", zerolinewidth=2, showline=True, mirror=True,
              linecolor="#cccccc", linewidth=2, ticks="outside", ticklen=4, tickcolor="#999",
              tickfont=dict(family=DIALOG, size=13, color="#555"),
              title=dict(text="Enrichment score (ES)", font=dict(family=DIALOG, size=16, color="#666"), standoff=2))
    return xa, ya


def strip_axes(domain_x, domain_y, x_max):
    xa = dict(domain=domain_x, range=[0, x_max], visible=False)
    ya = dict(domain=domain_y, range=[0, 1], visible=False)
    return xa, ya


def add_strip(fig, hits, widths, colors, axes):
    xaxis, yaxis = axes
    fig.add_trace(go.Bar(x=[50], y=[0.78], base=[0.22], width=[100], marker=dict(color="black", line=dict(width=0)),
                         xaxis=xaxis, yaxis=yaxis, hoverinfo="skip"))
    fig.add_trace(go.Bar(x=hits, y=[0.78] * len(hits), base=[0.22] * len(hits), width=widths,
                         marker=dict(color="#dddddd", line=dict(width=0)), xaxis=xaxis, yaxis=yaxis, hoverinfo="skip"))
    step = 100 / len(colors)
    fig.add_trace(go.Bar(x=[step * (i + 0.5) for i in range(len(colors))], y=[0.22] * len(colors), width=step,
                         marker=dict(color=colors, line=dict(width=0)), xaxis=xaxis, yaxis=yaxis, hoverinfo="skip"))


# ----------------------------------------------------------------------------
# Figure
# ----------------------------------------------------------------------------
fig = go.Figure()

# A
axes_a = ("x", "y")
mass(fig, a_black_mass, BLACK, axes_a)
dots(fig, a_black, BLACK, axes_a)
mass(fig, a_red_left, RED, axes_a)
mass(fig, a_red_right, RED, axes_a)
dots(fig, a_red, RED, axes_a)
dots(fig, a_blue, BLUE, axes_a)
dots(fig, a_green, GREEN, axes_a)
divider(fig, a_divider_x, a_divider_y, axes_a)

# C
axes_c = ("x4", "y4")
mass(fig, c_black_mass, BLACK, axes_c)
dots(fig, c_black, BLACK, axes_c)
mass(fig, c_red_left, RED, axes_c)
mass(fig, c_red_right, RED, axes_c)
dots(fig, c_red, RED, axes_c)
mass(fig, c_blue_left, BLUE, axes_c)
mass(fig, c_blue_right, BLUE, axes_c)
dots(fig, c_blue, BLUE, axes_c)
dots(fig, c_green, GREEN, axes_c)
divider(fig, c_divider_x, c_divider_y, axes_c)

# B
fig.add_trace(go.Bar(y=list(range(10)), x=up_scores, orientation="h", width=0.78, marker=dict(color="#ff6600"),
                     xaxis="x2", yaxis="y2", hoverinfo="skip"))
fig.add_trace(go.Bar(y=list(range(10)), x=down_scores, orientation="h", width=0.78, marker=dict(color="#067d06"),
                     xaxis="x3", yaxis="y3", hoverinfo="skip"))

# D
fig.add_trace(go.Scatter(x=es_up_rank, y=es_up, mode="lines", line=dict(color="#14ee14", width=5),
                         xaxis="x5", yaxis="y5", hoverinfo="skip"))
add_strip(fig, hits_up, hits_up_w, strip_up, ("x6", "y6"))
fig.add_trace(go.Scatter(x=es_dn_rank, y=es_dn, mode="lines", line=dict(color="#14ee14", width=5),
                         xaxis="x7", yaxis="y7", hoverinfo="skip"))
add_strip(fig, hits_dn, hits_dn_w, strip_dn, ("x8", "y8"))

xa, ya = volcano_axes(dom_x(80.4, 1056), dom_y(14, 765), [-9.77, 9.78], [-1.97, 51.9], [-5, 0, 5],
                      [0, 10, 20, 30, 40, 50], 24)
xc, yc = volcano_axes(dom_x(88.4, 1070), dom_y(849.5, 1605), [-10.92, 12.97], [-2.4, 62.2], [-10, -5, 0, 5, 10],
                      [0, 10, 20, 30, 40, 50, 60], 26)
xb1, yb1 = bar_axes(dom_x(1390, 1752), dom_y(47.7, 409), 500, 100, [9.73, -0.816], up_names)
xb2, yb2 = bar_axes(dom_x(1394, 1756), dom_y(500, 862.7), 1000, 200, [9.76, -0.84], down_names)
xd1, yd1 = es_axes(dom_x(1195, 1739.6), dom_y(987, 1223), 104.9, [-0.00826, 0.1866],
                   [0, 0.025, 0.05, 0.075, 0.1, 0.125, 0.15, 0.175],
                   ["0.000", "0.025", "0.050", "0.075", "0.100", "0.125", "0.150", "0.175"],
                   [13, 25.9, 38.9, 52, 64.8, 77.6, 90.4, 103.2])
xd2, yd2 = es_axes(dom_x(1195, 1735), dom_y(1429, 1666.7), 105.2, [-0.2117, 0.0234],
                   [0, -0.025, -0.05, -0.075, -0.1, -0.125, -0.15, -0.175, -0.2],
                   ["0.000", "-0.025", "-0.050", "-0.075", "-0.100", "-0.125", "-0.150", "-0.175", "-0.200"],
                   [13.1, 26.1, 39, 52, 64.8, 77.7, 90.7, 103.6])
xs1, ys1 = strip_axes(dom_x(1195, 1739.6), dom_y(1228, 1324), 104.9)
xs2, ys2 = strip_axes(dom_x(1195, 1735), dom_y(1670.7, 1766), 105.2)

for ax, key in [(ya, "yaxis"), (yb1, "yaxis2"), (yb2, "yaxis3"), (yc, "yaxis4"), (yd1, "yaxis5"), (ys1, "yaxis6"),
                (yd2, "yaxis7"), (ys2, "yaxis8")]:
    ax["anchor"] = "x" + key[5:]
    fig.layout[key] = ax
for ax, key in [(xa, "xaxis"), (xb1, "xaxis2"), (xb2, "xaxis3"), (xc, "xaxis4"), (xd1, "xaxis5"), (xs1, "xaxis6"),
                (xd2, "xaxis7"), (xs2, "xaxis8")]:
    ax["anchor"] = "y" + key[5:]
    fig.layout[key] = ax

LOG2_A = 'Log<span style="font-size:20px">2</span> (fold change)'
LOG10_A = '-Log<span style="font-size:20px">10</span> (adjusted <i>P</i>-value)'
LOG2_C = 'Log<span style="font-size:22px">2</span> (fold change)'
LOG10_C = '-Log<span style="font-size:22px">10</span> (adjusted <i>P</i>-value)'

texts = [
    label("A", 0, 26, 48, "black", bold=True, anchor="left"),
    label("B", 1081, 26, 48, "black", bold=True, anchor="left"),
    label("C", 2, 899, 50, "black", bold=True, anchor="left"),
    label("D", 1080, 902, 50, "black", bold=True, anchor="left"),
    # A
    label(LOG2_A, 574, 818, 27, "#333"),
    label(LOG10_A, 17, 419, 27, "#333", angle=-90),
    label("Genes enriched in L-NICD", 310, 134, 29.8),
    label("non-tumor liver tissues", 310, 170, 29.8),
    label("Genes enriched in", 874, 132, 29.8),
    label("L-NICD HCC", 874, 168, 29.8),
    label("Mcm6", 724, 333, 22, "#333", italic=True),
    label("Mcm3", 719, 392, 22, "#333", italic=True),
    label("Mcm4", 698, 460, 22, "#333", italic=True),
    label("Mcm2", 704, 483, 22, "#333", italic=True),
    label("Mcm5", 762, 497, 22, "#333", italic=True),
    label("Mki67", 776, 522, 22, "#333", italic=True),
    label("Mcm7", 688, 543, 22, "#333", italic=True),
    label("Glul", 479, 535, 22, "#333", italic=True),
    label("Notum", 480, 603, 22, "#333", italic=True),
    # C
    label(LOG2_C, 545, 1662, 30, "#333"),
    label(LOG10_C, 24, 1234, 30, "#333", angle=-90),
    label("Genes enriched in", 302, 916, 33.3),
    label("Notch-high non-tumor", 302, 956, 33.3),
    label("liver tissues", 302, 995, 33.3),
    label("Genes enriched in", 853, 928, 33.3),
    label("Notch-high HCC", 853, 968, 33.3),
    label("TTR", 317, 1347, 24, "#333", italic=True),
    label("MCM3", 645, 1374, 24, "#333", italic=True),
    label("MKI67", 706, 1393, 24, "#333", italic=True),
    label("MCM2", 625, 1410, 24, "#333", italic=True),
    label("MCM10", 724, 1441, 24, "#333", italic=True),
    label("MCM4", 634, 1448, 24, "#333", italic=True),
    # B
    label("Upregulated pathways", 1151, 25, 30.4, "black", bold=True, anchor="left"),
    label("KEGG 2019", 1571, 38, 21.7, "black", bold=True),
    label("Downregulated pathways", 1106, 483, 30.5, "black", bold=True, anchor="left"),
    label("KEGG 2019", 1575, 491, 21.7, "black", bold=True),
    # D
    label("Enrichment plot: HUMAN_NOTCH-", 1435, 942, 23, "#222", bold=True, family=DIALOG),
    label("HIGH_NT_VS_HCC_UP", 1435, 968, 23, "#222", bold=True, family=DIALOG),
    label("NES: 9.413", 1270, 1090, 26, anchor="left"),
    label("FDR q-value: 0.0000", 1270, 1121, 26, anchor="left"),
    label("L-NICD tumors", 1317, 1347, 30.7, "#ff0000", bold=True),
    label("L-NICD NT", 1585, 1347, 30.7, "#4472c4", bold=True),
    label("Enrichment plot: HUMAN_NOTCH-", 1429, 1384, 23, "#222", bold=True, family=DIALOG),
    label("HIGH_NT_VS_HCC_DN", 1429, 1411, 23, "#222", bold=True, family=DIALOG),
    label("NES: -8.635", 1416, 1501, 26, anchor="left"),
    label("FDR q-value: 0.0000", 1416, 1532, 26, anchor="left"),
    label("L-NICD tumors", 1324, 1782, 30.7, "#ff0000", bold=True),
    label("L-NICD NT", 1587, 1782, 30.7, "#4472c4", bold=True),
]

backgrounds = [
    rect(1115.5, 928, 1746, 1324, "#eeeeee"),
    rect(1135, 1275, 1175, 1324, "#f4f4f4"),
    rect(1195, 987, 1739.6, 1324, "white"),
    rect(1110, 1370.7, 1740.5, 1766, "#eeeeee"),
    rect(1130, 1715, 1170, 1766, "#f4f4f4"),
    rect(1195, 1429, 1735, 1766, "white"),
]

fig.update_layout(width=W, height=H, margin=dict(l=0, r=0, t=0, b=0, autoexpand=False), autosize=False, showlegend=False,
                  barmode="overlay", bargap=0, paper_bgcolor="white", plot_bgcolor="rgba(0,0,0,0)",
                  font=dict(family=FONT), annotations=texts, shapes=backgrounds)

fig.write_html("out.html", config={"displayModeBar": False},
               post_script="document.body.style.margin='0';document.body.style.overflow='hidden';")
